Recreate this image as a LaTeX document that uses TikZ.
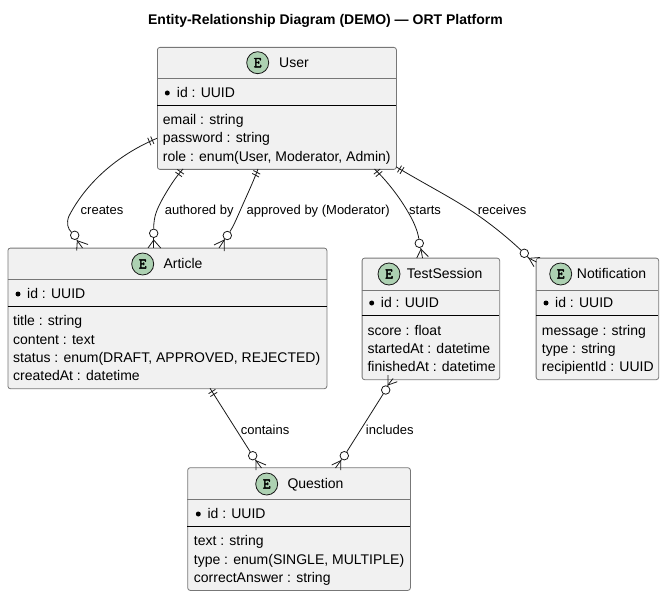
\documentclass[tikz,border=0pt]{standalone}
\usepackage{fontspec}
\setmainfont{Liberation Sans}
\newfontfamily\spotfont{Latin Modern Mono}[FakeBold=3]
\definecolor{boxfill}{HTML}{F1F1F1}
\definecolor{boxline}{HTML}{777777}
\definecolor{spot}{HTML}{ADD1B2}
\definecolor{ink}{HTML}{181818}
\tikzset{
  entbox/.style={draw=boxline,fill=boxfill,line width=.8pt,rounded corners=2.5pt,inner sep=0pt,anchor=north west},
  hdrline/.style={draw=boxline,line width=.8pt},
  sepline/.style={draw=black,line width=.8pt},
  spotc/.style={circle,draw=ink,fill=spot,line width=.8pt,minimum size=22pt,inner sep=0pt,font=\spotfont\fontsize{15}{15}\selectfont},
  rowtxt/.style={anchor=mid west,yshift=-2.2pt,inner sep=0pt,font=\fontsize{14}{16}\selectfont,text=black},
  nametxt/.style={anchor=mid west,yshift=-2pt,inner sep=0pt,font=\fontsize{14}{16}\selectfont,text=black},
  lbl/.style={anchor=mid west,yshift=-1.8pt,inner sep=0pt,font=\fontsize{13}{15}\selectfont,text=black},
  bul/.style={circle,fill=black,minimum size=5pt,inner sep=0pt},
  ring/.style={circle,draw=ink,fill=white,line width=.8pt,minimum size=8.5pt,inner sep=0pt},
  rel/.style={draw=ink,line width=.8pt},
}
% name x1 y1 x2 y2 header-y separator-y
\newcommand{\entbox}[7]{%
  \node[entbox,minimum width={#4pt-#2pt},minimum height={#5pt-#3pt}] (#1) at (#2,#3) {};
  \draw[hdrline] (#2,#6) -- (#4,#6);
  \draw[sepline] (#2,#7) -- (#4,#7);
}
\newcommand{\rowt}[4]{\node[rowtxt] (#1) at (#2,#3) {#4};}
\newcommand{\bars}[6]{%
  \draw[rel] ({#1-(#5)},{#2-(#6)}) -- ({#1+(#5)},{#2+(#6)});
  \draw[rel] ({#3-(#5)},{#4-(#6)}) -- ({#3+(#5)},{#4+(#6)});
}
\begin{document}
\begin{tikzpicture}[x=1pt,y=-1pt]
\useasboundingbox (0,0) rectangle (663,596);
\node[font=\bfseries\fontsize{14}{16}\selectfont,text=black,inner sep=0pt] (title) at (325.5,21) {Entity-Relationship Diagram (DEMO) — ORT Platform};

\entbox{user}{157}{47}{396}{169}{78}{105}
\node[spotc] (userspot) at (257.7,62.7) {E};
\node[nametxt] (username) at (279,63) {User};
\node[bul] (userb) at (167.3,93) {};
\rowt{userid}{176.7}{93}{id : UUID}
\rowt{usera}{162.7}{120}{email : string}
\rowt{userb2}{162.7}{138}{password : string}
\rowt{userc}{162.7}{157}{role : enum(User, Moderator, Admin)}

\entbox{article}{7.5}{247.7}{326.5}{388.3}{279.3}{306.3}
\node[spotc] (articlespot) at (142.7,264) {E};
\node[nametxt] (articlename) at (163.3,264) {Article};
\node[bul] (articleb) at (18,294) {};
\rowt{articleid}{27}{294}{id : UUID}
\rowt{articlea}{13}{321}{title : string}
\rowt{articleb2}{13}{339.5}{content : text}
\rowt{articlec}{13}{358}{status : enum(DRAFT, APPROVED, REJECTED)}
\rowt{articled}{13}{376}{createdAt : datetime}

\entbox{test}{361.7}{257.7}{499.3}{379.3}{290}{315.3}
\node[spotc] (testspot) at (389,274) {E};
\node[nametxt] (testname) at (406.7,274) {TestSession};
\node[bul] (testb) at (371.7,303) {};
\rowt{testid}{380.7}{303}{id : UUID}
\rowt{testa}{367.3}{330.5}{score : float}
\rowt{testb2}{367.3}{348.5}{startedAt : datetime}
\rowt{testc}{367.3}{367}{finishedAt : datetime}

\entbox{note}{535.7}{257.7}{658.3}{379.3}{290}{315.3}
\node[spotc] (notespot) at (560.7,274) {E};
\node[nametxt] (notename) at (576.7,274) {Notification};
\node[bul] (noteb) at (546,303) {};
\rowt{noteid}{555}{303}{id : UUID}
\rowt{notea}{541.7}{330.5}{message : string}
\rowt{noteb2}{541.7}{348.5}{type : string}
\rowt{notec}{541.7}{367}{recipientId : UUID}

\entbox{quest}{187.3}{467.3}{410}{590}{499.3}{526}
\node[spotc] (questspot) at (266.7,484) {E};
\node[nametxt] (questname) at (287.3,484) {Question};
\node[bul] (questb) at (198.3,514) {};
\rowt{questid}{207.3}{514}{id : UUID}
\rowt{questa}{193.7}{541}{text : string}
\rowt{questb2}{193.7}{559.5}{type : enum(SINGLE, MULTIPLE)}
\rowt{questc}{193.7}{578}{correctAnswer : string}

% rings
\node[ring] (r1) at (74.7,235.3) {};
\node[ring] (r2) at (153.7,233.3) {};
\node[ring] (r3) at (227.3,235.5) {};
\node[ring] (r4) at (419.3,243.3) {};
\node[ring] (r5) at (524.3,253.3) {};
\node[ring] (r6) at (252.7,455.7) {};
\node[ring] (r7) at (344.3,455.7) {};
\node[ring] (r8) at (385.7,390) {};

% anchors on the entity edges
\coordinate (ua) at (157,138.3);
\coordinate (ub) at (183,169);
\coordinate (uc) at (258,169);
\coordinate (ud) at (374.5,169);
\coordinate (ue) at (396,166.8);
\coordinate (af) at (210,388.3);

% creates
\draw[rel] (ua) .. controls (115,156) and (85,185) .. (69,216) .. controls (66,223) and (68,229) .. (r1);
\bars{149.3}{141.5}{152.3}{140.2}{1.6}{3.7}
\draw[rel] (r1) -- (77.3,240.7);
\draw[rel] (76.7,250.5) -- (77.3,240.7) -- (88,244.5);
\draw[rel] (77.3,240.7) -- (82.5,248);
% authored by
\draw[rel] (ub) .. controls (175,178) and (170,186) .. (163,198) .. controls (157,209) and (153.7,216) .. (r2);
\bars{180.6}{171.8}{178.7}{174.4}{3.3}{2.3}
\draw[rel] (r2) -- (153.7,240);
\draw[rel] (148,248) -- (153.7,240) -- (160.7,248);
\draw[rel] (153.7,240) -- (153.7,248);
% approved
\draw[rel] (uc) .. controls (252,185) and (246,197) .. (240,211) .. controls (236,220) and (233,227) .. (r3);
\bars{256.8}{172.3}{255.6}{175.2}{3.4}{1.8}
\draw[rel] (r3) -- (224.3,240);
\draw[rel] (214,245) -- (224.3,240) -- (224.3,251);
\draw[rel] (224.3,240) -- (219,248);
% starts
\draw[rel] (ud) .. controls (388,182) and (400,198) .. (408,212) .. controls (414,222) and (418,232) .. (r4);
\bars{377}{171.6}{379}{174}{3.2}{-2.6}
\draw[rel] (r4) -- (421,249.3);
\draw[rel] (416.7,258) -- (421,249.3) -- (428.3,256.5);
\draw[rel] (421,249.3) -- (422.5,258);
% receives
\draw[rel] (ue) .. controls (425,184) and (450,197) .. (470,210) .. controls (490,223) and (508,238) .. (r5);
\bars{399.5}{169}{402}{170.5}{2}{-3.3}
\draw[rel] (r5) -- (529,258.3);
\draw[rel] (540,257.5) -- (529,258.3) -- (534,266.7);
\draw[rel] (529,258.3) -- (536.5,262);
% contains
\draw[rel] (af) -- (r6);
\bars{212}{391.5}{213.8}{394.4}{3.4}{-2.1}
\draw[rel] (r6) -- (256,460.7);
\draw[rel] (266,465) -- (256,460.7) -- (256,470);
\draw[rel] (256,460.7) -- (261.5,468);
% includes
\draw[rel] (r8) -- (r7);
\draw[rel] (r8) -- (388,385);
\draw[rel] (397.3,381.7) -- (388,385) -- (388,375);
\draw[rel] (388,385) -- (393,378.5);
\draw[rel] (r7) -- (340.7,460.7);
\draw[rel] (331.7,465) -- (340.7,460.7) -- (340.7,470);
\draw[rel] (340.7,460.7) -- (335.5,468);

\node[lbl] (l1) at (80.5,210) {creates};
\node[lbl] (l2) at (164.7,210) {authored by};
\node[lbl] (l3) at (246.5,210) {approved by (Moderator)};
\node[lbl] (l4) at (409,210) {starts};
\node[lbl] (l5) at (477.7,210) {receives};
\node[lbl] (l6) at (240.7,430) {contains};
\node[lbl] (l7) at (365.7,430) {includes};
\end{tikzpicture}
\end{document}
